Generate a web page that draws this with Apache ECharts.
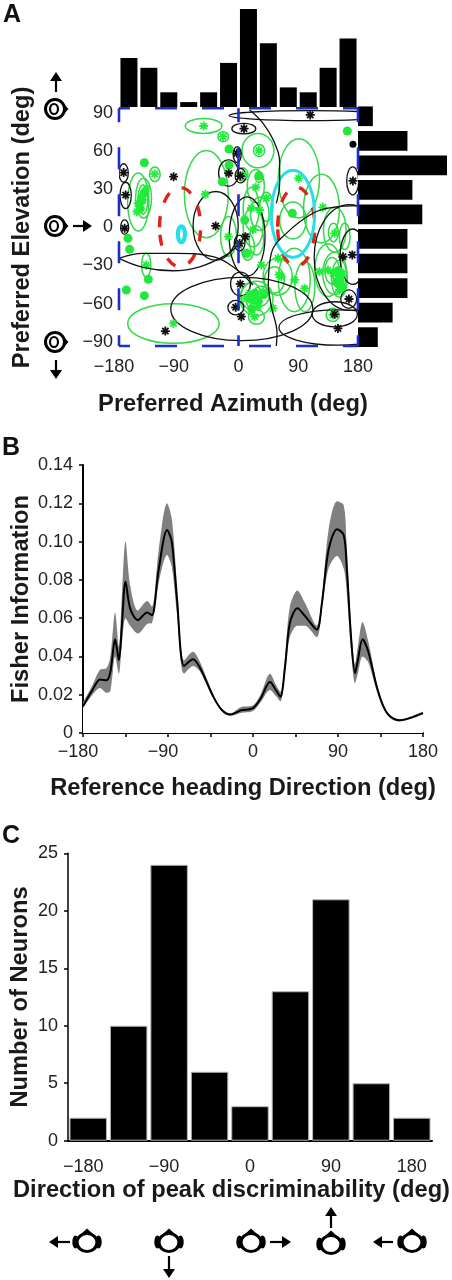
<!DOCTYPE html>
<html>
<head>
<meta charset="utf-8">
<title>Preferred directions and Fisher information</title>
<script src="https://cdn.jsdelivr.net/npm/echarts@6/dist/echarts.min.js"></script>
<style>
html, body { margin: 0; padding: 0; background: #fff; }
#main { width: 452px; height: 1280px; }
</style>
</head>
<body>
<div id="main"></div>
<script>
// panel A, marginal histograms
var azimuthBins = ['-165', '-135', '-105', '-75', '-45', '-15', '15', '45', '75', '105', '135', '165'];
var azimuthCounts = [10, 8, 3, 1, 3, 9, 20, 13, 4, 3, 8, 14];
var elevationBins = ['81', '63', '45', '27', '9', '-9', '-27', '-45', '-63', '-81'];
var elevationCounts = [3, 10, 18, 11, 13, 10, 10, 10, 7, 4];

// panel A, ellipses: azimuth, elevation, azimuth radius, elevation radius (deg)
var greenEllipses = [
  [-52.5, 76.6, 27.6, 5.6], [-23, 68.5, 8, 3.8], [29.3, 58, 24, 13], [31, 58, 8.5, 4.5],
  [-48.5, 25, 33, 33], [91, 37, 31, 30], [125, 14, 27, 26], [-151, 19, 16, 22],
  [-143, 22, 12, 15], [-144, 21, 7.5, 11], [-126, 40, 8, 5.5], [-139, -28.7, 7, 9],
  [-98, -73, 69, 15], [-15, -7, 12, 15], [26, 31, 13, 12.6], [31, 38, 6, 4],
  [6, 40, 8, 5], [19, 14, 12, 16], [42, 15.5, 10, 11], [32, 10, 14, 12.6],
  [22, 0, 15, 15], [14, -15, 10, 10], [27, -10, 11, 11], [82, 5, 20, 14],
  [145, -2, 17, 17], [160, -7, 8, 10], [143, -4, 7.5, 7], [135, -32.5, 20, 20],
  [145, -35, 18, 16], [152, -39, 12, 14], [141, -33, 11, 10], [150, -38, 7.5, 7.5],
  [59, -37.5, 22, 14], [84, -40, 24, 24], [100, -45, 15, 19], [54, -40, 15, 10],
  [27, -54, 25, 13], [19, -52, 15, 10], [34, -52, 12.5, 7.5], [27, -68, 12, 5.5],
  [22, -56, 10, 6], [142, -66.5, 10, 5]
];
var blackEllipses = [
  [108, 84.5, 122, 3.8], [8, 74.6, 18, 4], [-173, 41, 7, 7], [-170, 24, 8.5, 10],
  [-171.5, 0, 6, 5.5], [-34.4, 1, 34, 26], [-15, 41, 15, 10], [3, 39, 8, 5.5],
  [172, 35, 9, 10.6], [-2, 55, 6, 6], [13, -7, 27, 30], [1.7, -12, 8, 6],
  [3, -43, 15, 9], [-4, -61, 12, 5.5], [5, -62, 107, 24], [167, -23, 53, 40],
  [150, -76, 89, 13.4], [145, -66, 34, 9.5], [166, -54.5, 12, 7], [172, -22.4, 19, 21]
];
var cyanEllipses = [[82, 10, 32.6, 33]];
var smallCyanEllipses = [[-86, -5.4, 5.3, 6]];
var redEllipses = [[-88, 0, 31, 30], [87, 0.3, 28, 30]];

// panel A, black curves that are only partly visible
var blackCurves = [
  [[16.8, 88.7], [36.4, 78.9], [54.4, 63.7], [62, 48.6], [62, 33.4], [57, 18]],
  [[44.9, -45], [49.4, -19.8], [72, -4.7], [112, 10.5], [142.3, 15], [180, 16.3]],
  [[44.9, -45], [49.4, -60.2], [58, -80.4], [57, -90]],
  [[-180, -23.6], [-143.9, -19.8], [-93.7, -19.8], [-38.4, -22.4], [-8.3, -30], [21.8, -43.8]],
  [[-180, -23.6], [-143.9, -30.4], [-98.7, -33], [-58.5, -30], [-18.4, -21], [-0.8, -13.5]]
];

// panel A, points
var greenStars = [
  [-52.5, 76.6], [30.8, 58], [-23.4, 68.5], [-126.3, 40.3], [-50, 24.9], [90.6, 37], [127, 15],
  [-15.3, -7.2], [25.8, 30.2], [-98, -72.9], [-139, -28.7], [84.6, -40], [61, -36], [144.8, -4.7],
  [142.3, -35], [149.8, -38.8], [155, -42.6], [147, -33.7], [26.8, -52.7], [16.8, -50], [36.9, -49],
  [24.3, -67.8], [52, -61.5], [59.5, -23.6], [34.4, -28.7], [99.6, -46.4], [142.3, -66.5], [6.7, 39.5],
  [19.3, 14.3], [41.9, 21.8], [31.8, 13], [21.8, -2], [14.3, -19.8], [-151.4, 18], [-143.9, 20.6],
  [-138.8, 29.4], [-153, 11.7], [-146, 23], [134.8, -32.5], [122, -33.7], [157.3, -35], [152.3, -47.6],
  [64.5, -37.5], [21.8, -56.5], [29.3, -60.2], [11.8, -54], [42, -50]
];
var greenDots = [
  [163.9, 72.8], [-141.8, 48.8], [-169, -47.6], [-141.8, -51.9], [-135.8, -39.5], [-166.4, -8.5],
  [-164, -16.8], [-14.3, 59.2], [-14.3, 47], [-24.4, 34.4], [9.3, 5.4], [30.8, 38.7], [81, 10.5], [11.8, -19.8],
  [-146, 20], [-148, 14], [-142, 26], [150, -33], [153, -38], [148, -42], [156, -46],
  [18, -54], [25, -50], [30, -56], [38, -51], [20, -62]
];
var blackStars = [
  [108, 85], [8.3, 74.6], [-173, 41.3], [-170, 24.4], [-171.5, -0.9], [-97.7, 38.2], [-34.4, 0.9],
  [-14.8, 40.8], [2.7, 38.7], [172.4, 35], [-2.3, 55.9], [10.3, -7.2], [1.7, -12.3], [2.7, -43],
  [-4.3, -60.7], [4.2, -67.8], [-110.2, -78.7], [171.4, -21], [157.3, -22.4], [166.4, -54.4],
  [144.8, -66], [149.8, -76.7]
];
var blackDots = [[172.4, 62.7]];

// panel B
var headings = [-180, -170, -162, -155, -151, -146, -142, -139, -135, -130, -122, -112, -107, -100, -91, -86, -80.5, -73, -63.5, -56, -42, -33, -24, -13, 0, 8, 18, 24, 29, 34, 39, 47, 55, 67.5, 73, 80, 89, 96, 99, 104, 108, 111, 116, 122, 131, 138, 145, 155, 166, 180];
var fisherMean = [.014, .0225, .028, .0275, .032, .049, .038, .055, .079, .065, .059, .063, .0615, .085, .106, .1, .07, .035, .0385, .034, .019, .012, .0096, .0118, .013, .018, .0266, .0226, .019, .035, .0574, .0652, .0612, .054, .068, .0957, .1065, .1035, .0887, .0487, .0313, .038, .049, .0426, .0243, .0139, .0087, .0066, .0078, .0104];
var fisherLow = [.013, .02, .0235, .021, .022, .04, .031, .045, .06, .056, .052, .057, .0575, .078, .093, .087, .062, .031, .035, .032, .018, .0115, .009, .0105, .0115, .016, .0225, .0195, .0165, .032, .05, .056, .056, .05, .065, .086, .0925, .086, .075, .042, .026, .031, .04, .037, .022, .013, .008, .006, .0072, .01];
var fisherHigh = [.016, .025, .033, .034, .04, .063, .045, .07, .1, .077, .064, .069, .066, .095, .12, .112, .078, .038, .0425, .037, .02, .0125, .0102, .0135, .0145, .02, .031, .0255, .0215, .04, .066, .0745, .068, .056, .071, .106, .121, .119, .1, .055, .036, .045, .058, .048, .026, .015, .0095, .0072, .0084, .0112];

// panel C
var peakBins = [-180, -135, -90, -45, 0, 45, 90, 135, 180];
var neuronCounts = [2, 10, 24, 6, 3, 13, 21, 5, 2];

var sans = '"Liberation Sans", Arial, sans-serif';
var inkText = '#222';
var tickFont = { fontFamily: sans, fontSize: 18, color: inkText };
var titleFont = { fontFamily: sans, fontSize: 23.7, fontWeight: 'bold', color: '#1a1a1a' };
var asterisk = 'path://M-1,-5H1V5H-1Z M-5,-1H5V1H-5Z M-4.2,-2.8L-2.8,-4.2L4.2,2.8L2.8,4.2Z M-4.2,2.8L2.8,-4.2L4.2,-2.8L-2.8,4.2Z';

// the minus sign hangs off to the left of the tick in the original
function degLabel(v) {
  v = Number(v);
  return v < 0 ? '\u2212' + Math.abs(v) + '\u00a0\u00a0' : String(v);
}
function signed(v) {
  return v < 0 ? '\u2212' + Math.abs(v) : String(v);
}

function ellipseSeries(rows, color, width, dash) {
  return {
    type: 'custom',
    xAxisIndex: 2, yAxisIndex: 2,
    clip: true,
    silent: true,
    encode: { x: 0, y: 1 },
    data: rows,
    renderItem: function (params, api) {
      var c = api.coord([api.value(0), api.value(1)]);
      var r = api.size([api.value(2), api.value(3)]);
      return {
        type: 'ellipse',
        shape: { cx: c[0], cy: c[1], rx: r[0], ry: r[1] },
        style: { fill: 'none', stroke: color, lineWidth: width, lineDash: dash || null }
      };
    }
  };
}
function pointSeries(rows, symbol, size, color) {
  return {
    type: 'scatter', xAxisIndex: 2, yAxisIndex: 2, silent: true,
    data: rows, symbol: symbol, symbolSize: size,
    itemStyle: { color: color, opacity: 1 }
  };
}
function blueEdge(rows, offset) {
  return {
    type: 'line', xAxisIndex: 2, yAxisIndex: 2, silent: true, clip: false, data: rows, symbol: 'none', z: 6,
    lineStyle: { color: '#1c2fc8', width: 2.6, type: [22, 25], dashOffset: offset, cap: 'butt' }
  };
}

// head seen from above with the nose to the right (panel A)
function headA(x, y) {
  return {
    type: 'group', x: x, y: y, children: [
      { type: 'polygon', shape: { points: [[7, -7], [13.5, 0], [7, 7]] }, style: { fill: '#000' } },
      { type: 'circle', shape: { cx: 0, cy: 0, r: 9.5 }, style: { fill: '#fff', stroke: '#000', lineWidth: 3 } },
      { type: 'ellipse', shape: { cx: -1, cy: 0, rx: 4, ry: 5 }, style: { fill: '#fff', stroke: '#000', lineWidth: 2.2 } }
    ]
  };
}
// head with the nose up and ears on both sides (panel C)
function headC(x, y) {
  return {
    type: 'group', x: x, y: y, children: [
      { type: 'polygon', shape: { points: [[-7, -7], [0, -13.5], [7, -7]] }, style: { fill: '#000' } },
      { type: 'ellipse', shape: { cx: -11.5, cy: 0, rx: 3.2, ry: 6.5 }, style: { fill: '#000' } },
      { type: 'ellipse', shape: { cx: 11.5, cy: 0, rx: 3.2, ry: 6.5 }, style: { fill: '#000' } },
      { type: 'ellipse', shape: { cx: 0, cy: 0.5, rx: 10, ry: 9 }, style: { fill: '#fff', stroke: '#000', lineWidth: 3.2 } }
    ]
  };
}
function arrow(x1, y1, x2, y2) {
  var a = Math.atan2(y2 - y1, x2 - x1), h = 9, w = 6;
  var bx = x2 - h * Math.cos(a), by = y2 - h * Math.sin(a);
  return {
    type: 'group', children: [
      { type: 'line', shape: { x1: x1, y1: y1, x2: bx, y2: by }, style: { stroke: '#000', lineWidth: 2.2 } },
      { type: 'polygon', shape: { points: [[x2, y2], [bx - w * Math.sin(a), by + w * Math.cos(a)], [bx + w * Math.sin(a), by - w * Math.cos(a)]] }, style: { fill: '#000' } }
    ]
  };
}
function panelLetter(t, x, y) {
  return { type: 'text', x: x, y: y, style: { text: t, fontFamily: sans, fontSize: 25, fontWeight: 'bold', fill: '#111' } };
}

var hidden = { show: false };

var series = [
  { type: 'bar', xAxisIndex: 0, yAxisIndex: 0, data: azimuthCounts, barWidth: 17, itemStyle: { color: '#000' }, silent: true },
  { type: 'bar', xAxisIndex: 1, yAxisIndex: 1, data: elevationCounts, barWidth: 19.7, itemStyle: { color: '#000' }, silent: true },
  ellipseSeries(greenEllipses, '#35d848', 1.5),
  ellipseSeries(blackEllipses, '#111', 1.3)
];
blackCurves.forEach(function (c) {
  series.push({
    type: 'line', xAxisIndex: 2, yAxisIndex: 2, data: c, symbol: 'none', smooth: 0.4, silent: true,
    lineStyle: { color: '#111', width: 1.3 }
  });
});
series.push(
  pointSeries(greenDots, 'circle', 9, '#22e63c'),
  pointSeries(greenStars, asterisk, 9, '#1fee3a'),
  pointSeries(blackDots, 'circle', 7, '#000'),
  pointSeries(blackStars, asterisk, 9, '#111'),
  ellipseSeries(redEllipses, '#e2231a', 3.4, [11, 14]),
  ellipseSeries(cyanEllipses, '#25dfe8', 3),
  ellipseSeries(smallCyanEllipses, '#25dfe8', 4.2),
  blueEdge([[-180, 90], [180, 90]], 11),
  blueEdge([[-180, -90], [180, -90]], 11),
  blueEdge([[-180, 90], [-180, -90]], 8),
  blueEdge([[180, 90], [180, -90]], 8),
  blueEdge([[0, 90], [0, -90]], 8)
);
// grey band: the upper edge is filled grey, the lower edge fills white back over it
series.push(
  {
    type: 'line', xAxisIndex: 4, yAxisIndex: 4, symbol: 'none', smooth: 0.3, silent: true,
    data: headings.map(function (h, i) { return [h, fisherHigh[i]]; }),
    lineStyle: { width: 0 }, areaStyle: { color: '#808080', opacity: 1 }
  },
  {
    type: 'line', xAxisIndex: 4, yAxisIndex: 4, symbol: 'none', smooth: 0.3, silent: true,
    data: headings.map(function (h, i) { return [h, fisherLow[i]]; }),
    lineStyle: { width: 0 }, areaStyle: { color: '#fff', opacity: 1 }
  },
  {
    type: 'line', xAxisIndex: 4, yAxisIndex: 4, symbol: 'none', smooth: 0.3, silent: true,
    data: headings.map(function (h, i) { return [h, fisherMean[i]]; }),
    lineStyle: { color: '#000', width: 2 }
  },
  {
    type: 'bar', xAxisIndex: 5, yAxisIndex: 5, data: neuronCounts, barWidth: 37.5, silent: true,
    itemStyle: { color: '#000', borderColor: '#b5b5b5', borderWidth: 1 }
  }
);

var option = {
  animation: false,
  backgroundColor: '#fff',
  grid: [
    { left: 119, top: 9, width: 239, height: 98, outerBoundsMode: 'none' },
    { left: 358, top: 104, width: 89, height: 245.4, outerBoundsMode: 'none' },
    { left: 119, top: 108.3, width: 239, height: 237.7, outerBoundsMode: 'none' },
    { left: 119, top: 113.3, width: 239, height: 228.3, outerBoundsMode: 'none' },
    { left: 83, top: 465, width: 340, height: 268, outerBoundsMode: 'none' },
    { left: 68, top: 853.3, width: 364, height: 287.4, outerBoundsMode: 'none' }
  ],
  xAxis: [
    { gridIndex: 0, type: 'category', data: azimuthBins, show: false },
    { gridIndex: 1, type: 'value', min: 0, max: 18, show: false, splitLine: hidden },
    {
      gridIndex: 2, type: 'value', min: -180, max: 180, interval: 90,
      axisLine: hidden, axisTick: hidden, splitLine: hidden,
      axisLabel: Object.assign({ margin: 12, formatter: degLabel, hideOverlap: false }, tickFont),
      name: 'Preferred Azimuth (deg)', nameLocation: 'middle', nameGap: 46,
      nameTextStyle: Object.assign({ padding: [0, 11, 0, 0] }, titleFont)
    },
    { gridIndex: 3, type: 'value', min: -180, max: 180, show: false },
    {
      gridIndex: 4, type: 'value', min: -180, max: 180, interval: 45,
      axisLine: { lineStyle: { color: '#000', width: 2 } },
      axisTick: { length: 4, lineStyle: { color: '#000', width: 1.5 } }, splitLine: hidden,
      axisLabel: Object.assign({ margin: 10, hideOverlap: false, formatter: function (v) { return v % 90 === 0 ? degLabel(v) : ''; } }, tickFont),
      name: 'Reference heading Direction (deg)', nameLocation: 'middle', nameGap: 43,
      nameTextStyle: Object.assign({ padding: [0, 20, 0, 0] }, titleFont)
    },
    {
      gridIndex: 5, type: 'category', data: peakBins,
      axisLine: { lineStyle: { color: '#000', width: 2 } },
      axisTick: { alignWithLabel: true, interval: 0, length: 4, lineStyle: { color: '#000', width: 1.5 } },
      axisLabel: Object.assign({ margin: 17, interval: 1, formatter: degLabel }, tickFont),
      name: 'Direction of peak discriminability (deg)', nameLocation: 'middle', nameGap: 38,
      nameTextStyle: Object.assign({ padding: [0, 37, 0, 0] }, titleFont)
    }
  ],
  yAxis: [
    { gridIndex: 0, type: 'value', min: 0, max: 20, show: false, splitLine: hidden },
    { gridIndex: 1, type: 'category', data: elevationBins, inverse: true, show: false },
    { gridIndex: 2, type: 'value', min: -90, max: 90, show: false, splitLine: hidden },
    {
      gridIndex: 3, type: 'value', min: -90, max: 90, interval: 30,
      axisLine: hidden, axisTick: hidden, splitLine: hidden,
      axisLabel: Object.assign({ margin: 6, formatter: signed, hideOverlap: false }, tickFont),
      name: 'Preferred Elevation (deg)', nameLocation: 'middle', nameGap: 85,
      nameTextStyle: titleFont
    },
    {
      gridIndex: 4, type: 'value', min: 0, max: 0.14, interval: 0.02,
      axisLine: { show: true, onZero: false, lineStyle: { color: '#000', width: 2 } },
      axisTick: { show: true, length: 4, lineStyle: { color: '#000', width: 1.5 } }, splitLine: hidden,
      axisLabel: Object.assign({ margin: 10, hideOverlap: false, formatter: function (v) { return v === 0 ? '0' : v.toFixed(2); } }, tickFont),
      name: 'Fisher Information', nameLocation: 'middle', nameGap: 50, nameMoveOverlap: false,
      nameTextStyle: titleFont
    },
    {
      gridIndex: 5, type: 'value', min: 0, max: 25, interval: 5,
      axisLine: { show: true, onZero: false, lineStyle: { color: '#000', width: 1.5 } },
      axisTick: { show: true, length: 4, lineStyle: { color: '#000', width: 1.5 } }, splitLine: hidden,
      axisLabel: Object.assign({ margin: 10, hideOverlap: false }, tickFont),
      name: 'Number of Neurons', nameLocation: 'middle', nameGap: 36, nameMoveOverlap: false,
      nameTextStyle: titleFont
    }
  ],
  series: series,
  graphic: {
    elements: [
      panelLetter('A', 3, 3),
      panelLetter('B', 2, 436),
      panelLetter('C', 2, 824),
      headA(55, 109), headA(55, 226), headA(55, 342),
      arrow(56, 92, 56, 72), arrow(56, 360, 56, 379), arrow(73, 226, 92, 226),
      headC(87, 1242), headC(169, 1242), headC(251, 1242), headC(331, 1244), headC(412, 1242),
      arrow(70, 1242, 49, 1242), arrow(169, 1256, 169, 1278), arrow(270, 1242, 291, 1242),
      arrow(331, 1228, 331, 1207), arrow(393, 1242, 373, 1242)
    ]
  }
};

var chart = echarts.init(document.getElementById('main'), null, { renderer: 'canvas' });
chart.setOption(option);
window.onresize = chart.resize;
</script>
</body>
</html>
